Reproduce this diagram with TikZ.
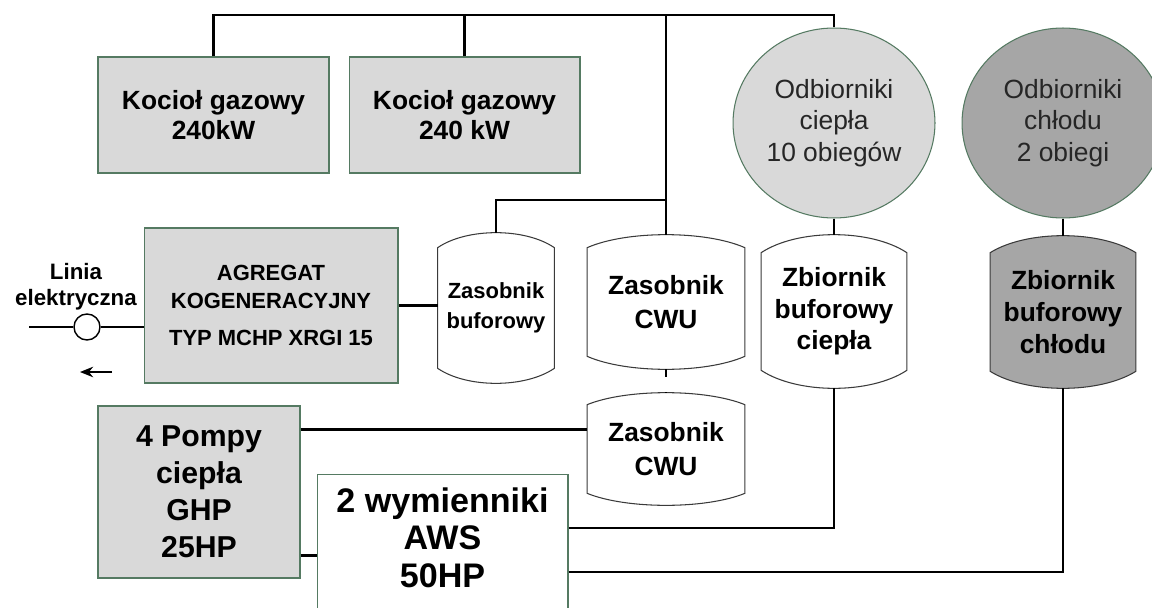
\documentclass[tikz,border=0pt]{standalone}
\usepackage{fontspec}
\setmainfont{Liberation Sans}
\usetikzlibrary{arrows.meta,positioning,calc,backgrounds,shapes.geometric}
\definecolor{boxgray}{HTML}{D9D9D9}
\definecolor{coldgray}{HTML}{A6A6A6}
\definecolor{rim}{HTML}{557A62}
\definecolor{tankrim}{HTML}{3A3A3A}
\definecolor{txtgray}{HTML}{262626}

\begin{document}
\begin{tikzpicture}[
  x=0.02cm, y=-0.02cm,
  box/.style={draw=rim, line width=0.6pt, fill=boxgray, align=center, inner sep=0pt},
  whitebox/.style={box, fill=white},
  receiver/.style={ellipse, draw=rim, line width=0.6pt, minimum width=4.04cm, minimum height=3.80cm, align=center, inner sep=0pt, text=txtgray, font=\fontsize{15}{18}\selectfont},
  tank/.style={rectangle, inner sep=0pt, align=center},
  tankline/.style={draw=tankrim, line width=0.6pt},
  pipe/.style={line width=1.6pt},
  eline/.style={line width=0.8pt},
  >=Stealth
]
\useasboundingbox (0,0) rectangle (1152,608);
\clip (0,0) rectangle (1152,608);

\node[box, minimum width=4.62cm, minimum height=2.32cm, font=\bfseries\fontsize{15}{17}\selectfont] (kot1) at (213.5,115) {Kocioł gazowy\\240kW};
\node[box, minimum width=4.62cm, minimum height=2.32cm, font=\bfseries\fontsize{15}{17}\selectfont] (kot2) at (464.5,115) {Kocioł gazowy\\240 kW};
\node[box, minimum width=5.08cm, minimum height=3.10cm, font=\bfseries\fontsize{12.5}{16}\selectfont] (agr) at (271,305.5) {AGREGAT\\KOGENERACYJNY\\[5pt]TYP MCHP XRGI 15};
\node[box, minimum width=4.04cm, minimum height=3.44cm, font=\bfseries\fontsize{17.2}{21}\selectfont] (pomp) at (199,492) {4 Pompy\\ciepła\\GHP\\25HP};
\node[whitebox, anchor=north, minimum width=5.02cm, inner ysep=0.26cm, text depth=0.8cm, font=\bfseries\fontsize{19.4}{21.3}\selectfont] (wym) at (442.5,474) {2 wymienniki\\AWS\\50HP};

\node[receiver, fill=boxgray] (odc) at (834,123) {Odbiorniki\\ciepła\\10 obiegów};
\node[receiver, fill=coldgray] (odch) at (1063,123) {Odbiorniki\\chłodu\\2 obiegi};

\node[tank, minimum width=2.32cm, minimum height=3.00cm, font=\bfseries\fontsize{12.5}{17}\selectfont] (zbuf) at (496,308) {Zasobnik\\buforowy};
\node[tank, minimum width=3.14cm, minimum height=2.68cm, font=\bfseries\fontsize{15}{19}\selectfont] (cwua) at (666,302) {Zasobnik\\CWU};
\node[tank, minimum width=3.14cm, minimum height=2.24cm, font=\bfseries\fontsize{15}{19}\selectfont] (cwub) at (666,449) {Zasobnik\\CWU};
\node[tank, minimum width=2.90cm, minimum height=3.06cm, font=\bfseries\fontsize{15}{18}\selectfont] (zbcp) at (834,311.5) {Zbiornik\\buforowy\\ciepła};
\node[tank, minimum width=2.90cm, minimum height=3.04cm, font=\bfseries\fontsize{15}{18}\selectfont] (zbch) at (1063,312) {Zbiornik\\buforowy\\chłodu};

\begin{scope}[on background layer]
\foreach \t/\b/\c in {zbuf/15/white, cwua/13/white, cwub/12/white, zbcp/18/white, zbch/17/coldgray}
  \draw[tankline, fill=\c] ($(\t.south west)+(0,-\b)$) -- ($(\t.north west)+(0,\b)$)
    .. controls ($(\t.north west)!0.25!(\t.north east)+(0,-\b/3)$) and ($(\t.north west)!0.75!(\t.north east)+(0,-\b/3)$) .. ($(\t.north east)+(0,\b)$)
    -- ($(\t.south east)+(0,-\b)$)
    .. controls ($(\t.south west)!0.75!(\t.south east)+(0,\b/3)$) and ($(\t.south west)!0.25!(\t.south east)+(0,\b/3)$) .. cycle;
\end{scope}

\node[align=center, inner sep=0pt, font=\bfseries\fontsize{12.7}{14.7}\selectfont] (lin) at (76,287) {Linia\\elektryczna};
\node[draw, circle, eline, minimum size=0.52cm, inner sep=0pt] (lm) at (87,327) {};
\coordinate (lend) at (29,327);
\coordinate (ea) at (112,372);
\coordinate (eb) at (80,372);
\draw[eline] (lend) -- (lm.west);
\draw[eline] (lm.east) -- (lm.east -| agr.west);
\draw[line width=1pt, -{Stealth[length=7.5pt, width=6pt]}] (ea) -- (eb);

\coordinate (top) at (0,15);
\coordinate (split) at (0,200);
\draw[pipe] (kot1.north) |- (top -| odc.north) -- (odc.north);
\draw[pipe] (kot2.north) -- (kot2.north |- top);
\draw[pipe] (cwua.north) -- (cwua.north |- top);
\draw[pipe] (zbuf.north) |- (split -| cwua.north);
\draw[pipe] (agr.east) -- (agr.east -| zbuf.west);
\draw[pipe] (odc.south) -- (zbcp.north);
\draw[pipe] (odch.south) -- (zbch.north);
\draw[line width=1pt, dash pattern=on 4.5pt off 8.5pt on 2.5pt] (cwua.south) -- (cwub.north);

\coordinate (pc) at ($(pomp.north east)+(0,24)$);
\coordinate (pw) at ($(pomp.south east)+(0,-23)$);
\coordinate (wc) at ($(wym.north east)+(0,54)$);
\coordinate (wh) at ($(wym.north east)+(0,98)$);
\draw[pipe] (pc) -- (pc -| cwub.west);
\draw[pipe] (pw) -- (pw -| wym.west);
\draw[pipe] (wc) -| (zbcp.south);
\draw[pipe] (wh) -| (zbch.south);

\end{tikzpicture}
\end{document}
